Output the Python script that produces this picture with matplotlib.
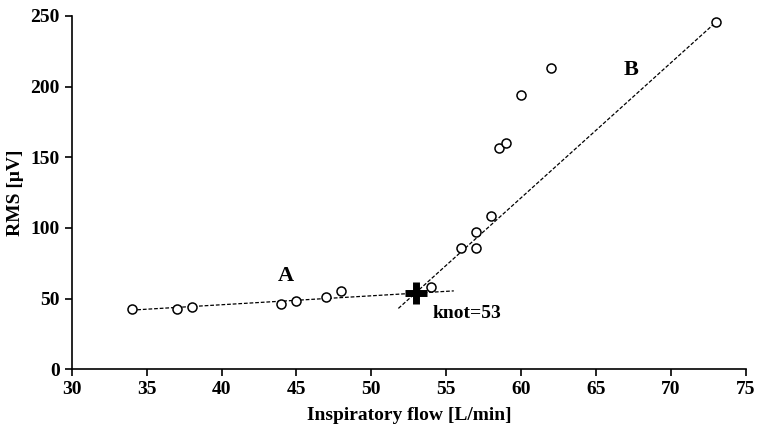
import numpy as np
import matplotlib
matplotlib.use('Agg')
import matplotlib.pyplot as plt

# data
flow = [34, 37, 38, 44, 45, 47, 48, 54, 56, 57, 57, 58, 58.5, 59, 60, 62, 73]
rms = [42.4, 42.9, 44.3, 46.2, 48.3, 51.1, 55.6, 58.4, 86, 85.6, 97.3, 108.4, 156.5, 160, 194, 213, 245.6]

# fitted segments
lineA_x = [34, 55.5]
lineA_y = [41.9, 55.5]
lineB_x = [51.8, 73]
lineB_y = [43.1, 245.6]
knot_x = 53
knot_y = 54.3

plt.rcParams['font.family'] = ['Liberation Serif', 'DejaVu Serif']
plt.rcParams['font.weight'] = 'bold'

fig = plt.figure(figsize=(7.57, 4.28), dpi=100)
ax = fig.add_axes([0.0947, 0.137, 0.8908, 0.826])

ax.plot(lineA_x, lineA_y, color='black', ls=(0, (3, 1.5)), lw=0.9)
ax.plot(lineB_x, lineB_y, color='black', ls=(0, (3, 1.5)), lw=0.9)
ax.plot(flow, rms, 'o', mfc='white', mec='black', ms=6.5, mew=1.1, ls='none')
ax.plot([knot_x], [knot_y], marker='+', color='black', ms=16, mew=5)

ax.text(44.3, 66, 'A', fontsize=16, fontweight='bold', ha='center', va='center')
ax.text(67.3, 211.7, 'B', fontsize=16, fontweight='bold', ha='center', va='center')
ax.text(54.1, 39.8, 'knot=53', fontsize=14, fontweight='bold', ha='left', va='center')

ax.set_xlim(30, 75)
ax.set_ylim(0, 250)
ax.set_xticks(np.arange(30, 76, 5))
ax.set_yticks(np.arange(0, 251, 50))
ax.spines['top'].set_visible(False)
ax.spines['right'].set_visible(False)
ax.spines['left'].set_linewidth(1.2)
ax.spines['bottom'].set_linewidth(1.2)
ax.tick_params(direction='out', length=5, width=1.2, labelsize=14)
for lab in ax.get_xticklabels() + ax.get_yticklabels():
    lab.set_fontweight('bold')

ax.set_xlabel('Inspiratory flow [L/min]', fontsize=14, fontweight='bold', labelpad=6)
ax.set_ylabel('RMS [\u03bcV]', fontsize=14, fontweight='bold', labelpad=5)

fig.savefig('out.png', dpi=100)
